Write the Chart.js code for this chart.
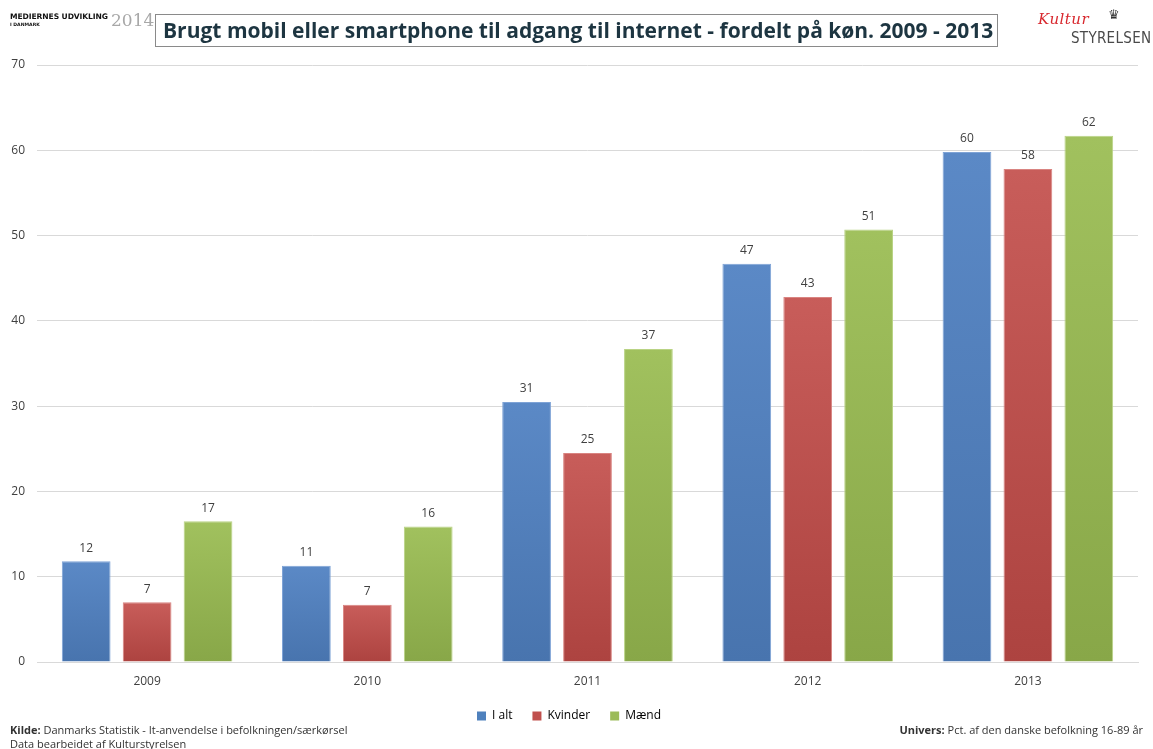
<!DOCTYPE html>
<html>
<head>
<meta charset="utf-8">
<script src="https://cdn.jsdelivr.net/npm/chart.js@4/dist/chart.umd.min.js"></script>
<style>
  html, body { margin: 0; padding: 0; background: #fff; }
  #wrap { position: relative; width: 1153px; height: 749px; overflow: hidden; font-family: "Open Sans", sans-serif; }
  #c { position: absolute; left: 0; top: 0; }
  .abs { position: absolute; white-space: nowrap; }
  #brand1 { left: 10px; top: 12px; font: 900 7.6px "DejaVu Sans", sans-serif; color: #111; letter-spacing: -0.1px; }
  #brand2 { left: 10px; top: 22px; font: 700 4.6px "DejaVu Sans", sans-serif; color: #111; }
  #year { left: 111px; top: 10px; font: 17px "DejaVu Serif", serif; color: #a8a8a8; }
  #titlebox { left: 155px; top: 14px; width: 843px; height: 33px; border: 1px solid #8a8a8a; box-sizing: border-box; }
  #title { left: 163px; top: 14px; height: 33px; line-height: 33px; font-family: "Open Sans", sans-serif; font-weight: 700; color: #1d3541; }
  #kultur { left: 1038px; top: 10px; font: italic 15px "DejaVu Serif", serif; color: #d8282e; letter-spacing: 0.5px; }
  #crown { left: 1108px; top: 7px; font: 13px "DejaVu Sans", sans-serif; color: #333; }
  #styrelsen { left: 1071px; top: 29px; font: 15px "DejaVu Sans Condensed", "DejaVu Sans", sans-serif; color: #4a4a4a; letter-spacing: 0.3px; }
  .foot { font-family: "Open Sans", sans-serif; font-size: 11px; color: #333; }
  .foot b { font-weight: 700; }
</style>
</head>
<body>
<div id="wrap">
  <canvas id="c" width="1153" height="749"></canvas>
  <div class="abs" id="brand1">MEDIERNES UDVIKLING</div>
  <div class="abs" id="brand2">I DANMARK</div>
  <div class="abs" id="year">2014</div>
  <div class="abs" id="titlebox"></div>
  <div class="abs" id="title">Brugt mobil eller smartphone til adgang til internet - fordelt på køn. 2009 - 2013</div>
  <div class="abs" id="kultur">Kultur</div>
  <div class="abs" id="crown">♛</div>
  <div class="abs" id="styrelsen">STYRELSEN</div>
  <div class="abs foot" style="left:10px; top:722px;"><b>Kilde:</b> Danmarks Statistik - It-anvendelse i befolkningen/særkørsel</div>
  <div class="abs foot" style="left:10px; top:736px;">Data bearbeidet af Kulturstyrelsen</div>
  <div class="abs foot" style="right:10px; top:722px;"><b>Univers:</b> Pct. af den danske befolkning 16-89 år</div>
</div>
<script>
// Years on the x axis
const years = ['2009', '2010', '2011', '2012', '2013'];
// Share of the population (pct.) using mobile/smartphone for internet access
const iAlt    = [11.8, 11.3, 30.5, 46.7, 59.8];
const kvinder = [7.0, 6.7, 24.5, 42.8, 57.8];
const maend   = [16.5, 15.9, 36.7, 50.7, 61.7];
const seriesNames = ['I alt', 'Kvinder', 'Mænd'];
const yTicks = [0, 10, 20, 30, 40, 50, 60, 70];

// Fit the title text to its box
(function () {
  const t = document.getElementById('title');
  let size = 24;
  t.style.fontSize = size + 'px';
  while (t.offsetWidth > 830 && size > 10) { size -= 0.25; t.style.fontSize = size + 'px'; }
})();

const palette = [
  { top: '#5b89c6', bottom: '#4874ae', border: '#7ea3d6', legend: '#4f81bd' },
  { top: '#c85d5a', bottom: '#ad4340', border: '#d98481', legend: '#c0504d' },
  { top: '#a1c15e', bottom: '#88a748', border: '#b9d384', legend: '#9bbb59' }
];

function barGradient(idx) {
  return function (context) {
    const chart = context.chart;
    const area = chart.chartArea;
    const p = palette[idx];
    if (!area || context.type !== 'data') return p.legend;
    const yScale = chart.scales.y;
    const topY = yScale.getPixelForValue(context.raw);
    const g = chart.ctx.createLinearGradient(0, topY, 0, yScale.getPixelForValue(0));
    g.addColorStop(0, p.top);
    g.addColorStop(1, p.bottom);
    return g;
  };
}

// Value labels above each bar
const valueLabels = {
  id: 'valueLabels',
  afterDatasetsDraw(chart) {
    const ctx = chart.ctx;
    ctx.save();
    ctx.font = '12px "Open Sans", sans-serif';
    ctx.fillStyle = '#404040';
    ctx.textAlign = 'center';
    ctx.textBaseline = 'bottom';
    chart.data.datasets.forEach((ds, i) => {
      chart.getDatasetMeta(i).data.forEach((bar, j) => {
        ctx.fillText(String(Math.round(ds.data[j])), bar.x, bar.y - 7);
      });
    });
    ctx.restore();
  }
};

const seriesData = [iAlt, kvinder, maend];

new Chart(document.getElementById('c'), {
  type: 'bar',
  data: {
    labels: years,
    datasets: seriesData.map((d, i) => ({
      label: seriesNames[i],
      data: d,
      backgroundColor: barGradient(i),
      borderColor: palette[i].border,
      borderWidth: 1,
      categoryPercentage: 0.83,
      barPercentage: 0.8
    }))
  },
  options: {
    responsive: false,
    animation: false,
    layout: { padding: { left: 0, right: 15, top: 65, bottom: 17 } },
    plugins: {
      tooltip: { enabled: false },
      legend: {
        position: 'bottom',
        labels: {
          boxWidth: 9,
          boxHeight: 9,
          padding: 20,
          color: '#404040',
          font: { family: 'Open Sans', size: 12 },
          generateLabels(chart) {
            return chart.data.datasets.map((ds, i) => ({
              text: ds.label,
              fillStyle: palette[i].legend,
              strokeStyle: palette[i].legend,
              lineWidth: 0,
              datasetIndex: i,
              hidden: false
            }));
          }
        }
      }
    },
    scales: {
      x: {
        grid: { display: false, drawTicks: false },
        border: { display: true, color: '#d9d9d9' },
        ticks: { color: '#404040', font: { family: 'Open Sans', size: 12 }, padding: 12 },
        afterFit(scale) { scale.height = 28; }
      },
      y: {
        min: 0,
        max: 70,
        afterBuildTicks(scale) { scale.ticks = yTicks.map(v => ({ value: v })); },
        grid: { color: '#d9d9d9', drawTicks: false },
        border: { display: false },
        ticks: { color: '#404040', font: { family: 'Open Sans', size: 12 }, padding: 12 },
        afterFit(scale) { scale.width = 37; }
      }
    }
  },
  plugins: [valueLabels]
});
</script>
</body>
</html>
